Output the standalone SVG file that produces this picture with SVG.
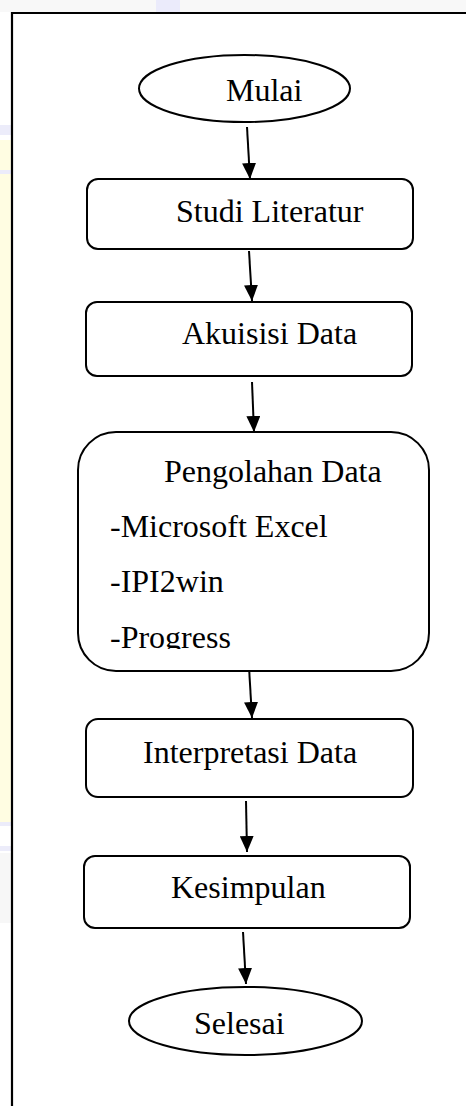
<svg xmlns="http://www.w3.org/2000/svg" width="466" height="1106" viewBox="0 0 466 1106">
<style>
.box{fill:#ffffff;stroke:#000;stroke-width:2}
.lbl{font-family:"Liberation Serif","Times New Roman",serif;font-size:32px;fill:#000}
.con{stroke:#000;stroke-width:2;fill:none}
</style>
<defs>
<marker id="ah" viewBox="0 0 16 14" refX="16" refY="7" markerWidth="16" markerHeight="14" markerUnits="userSpaceOnUse" orient="auto">
<path d="M0,0 L16,7 L0,14 Z" fill="#000"/>
</marker>
<clipPath id="clipP"><rect x="78" y="432" width="352" height="217"/></clipPath>
</defs>
<rect x="0" y="0" width="466" height="1106" fill="#ffffff"/>
<g id="watermark">
<rect x="0" y="0" width="466" height="12" fill="#f8f8f8"/>
<rect x="156" y="0" width="24" height="12" fill="#ebebfb"/>
<rect x="0" y="140" width="11" height="682" fill="#fffde2"/>
<rect x="0" y="125" width="11" height="10" fill="#ececfa"/>
<rect x="0" y="170" width="11" height="4" fill="#ececfa"/>
<rect x="0" y="822" width="11" height="4" fill="#ececfa"/>
<rect x="0" y="846" width="11" height="5" fill="#ececfa"/>
<rect x="0" y="853" width="11" height="70" fill="#f7f7f7"/>
</g>
<g id="frame">
<line x1="12" y1="13" x2="466" y2="13" stroke="#000" stroke-width="2"/>
<line x1="12" y1="12" x2="12" y2="1106" stroke="#000" stroke-width="2.2"/>
</g>
<g id="connectors">
<line class="con" x1="247" y1="127" x2="250" y2="179" marker-end="url(#ah)"/>
<line class="con" x1="249" y1="251" x2="252" y2="301" marker-end="url(#ah)"/>
<line class="con" x1="252" y1="382" x2="254" y2="432" marker-end="url(#ah)"/>
<line class="con" x1="249" y1="667" x2="252" y2="718" marker-end="url(#ah)"/>
<line class="con" x1="246" y1="801" x2="247" y2="852" marker-end="url(#ah)"/>
<line class="con" x1="243" y1="932" x2="246" y2="984" marker-end="url(#ah)"/>
</g>
<g id="mulai">
<ellipse class="box" cx="244.5" cy="88.5" rx="105.5" ry="33.5"/>
<text class="lbl" x="226" y="101">Mulai</text>
</g>
<g id="studi-literatur">
<rect class="box" x="87" y="179" width="326" height="70" rx="11"/>
<text class="lbl" x="176" y="222">Studi Literatur</text>
</g>
<g id="akuisisi-data">
<rect class="box" x="86" y="302" width="326" height="74" rx="11"/>
<text class="lbl" x="182" y="344">Akuisisi Data</text>
</g>
<g id="pengolahan-data">
<rect class="box" x="78" y="432" width="351" height="239" rx="38"/>
<text class="lbl" x="164" y="482">Pengolahan Data</text>
<text class="lbl" x="110" y="537">-Microsoft Excel</text>
<text class="lbl" x="110" y="592">-IPI2win</text>
<text class="lbl" x="110" y="648" clip-path="url(#clipP)">-Progress</text>
</g>
<g id="interpretasi-data">
<rect class="box" x="86" y="719" width="327" height="78" rx="12"/>
<text class="lbl" x="143" y="763">Interpretasi Data</text>
</g>
<g id="kesimpulan">
<rect class="box" x="84" y="856" width="326" height="72" rx="11"/>
<text class="lbl" x="171" y="898">Kesimpulan</text>
</g>
<g id="selesai">
<ellipse class="box" cx="245.5" cy="1021" rx="116.5" ry="34"/>
<text class="lbl" x="194" y="1034">Selesai</text>
</g>
</svg>
